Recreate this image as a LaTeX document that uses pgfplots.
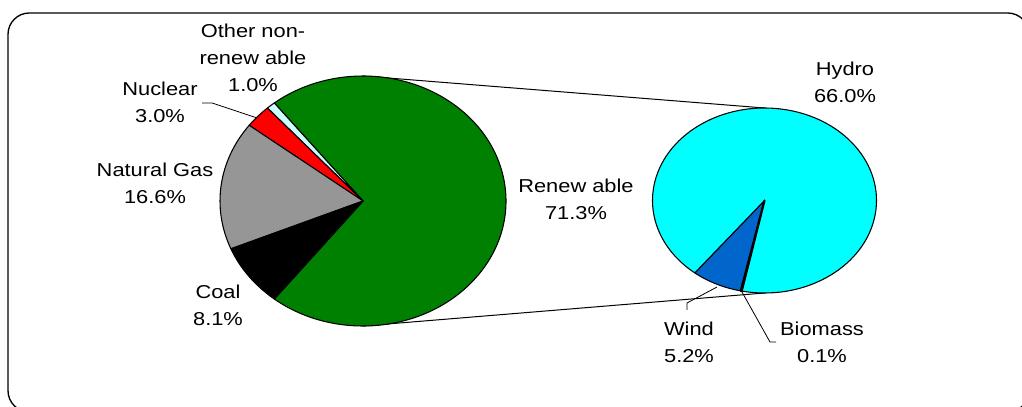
\documentclass[border=0pt]{standalone}
\usepackage{pgfplots}
\pgfplotsset{compat=1.18}
\usepackage{fontspec}
\setmainfont{Liberation Sans}[FakeStretch=1.17]
\definecolor{cGreen}{HTML}{008000}
\definecolor{cGray}{HTML}{969696}
\definecolor{cRed}{HTML}{FF0000}
\definecolor{cOther}{HTML}{CCFFFF}
\definecolor{cHydro}{HTML}{00FFFF}
\definecolor{cWind}{HTML}{0066CC}
\definecolor{cBio}{HTML}{000000}
\newcommand\pxu{0.75pt}
% #1 cx, #2 cy, #3 rx, #4 ry, #5 start angle, #6 value, #7 pie total, #8 colour
\newcommand\slice[9][0.8pt]{%
  \filldraw[fill=#9, draw=black, line width=#1, line join=round]
    (axis cs:#2,#3) -- ++({#6}:{#4*\pxu} and {#5*\pxu})
    arc[start angle={#6}, delta angle={#7/#8*360}, x radius={#4*\pxu}, y radius={#5*\pxu}] -- cycle;}
\begin{document}
\begin{tikzpicture}
\clip (0,0) rectangle (766.5pt,305.25pt);
\begin{axis}[at={(0,0)}, anchor=south west, scale only axis,
  width=766.5pt, height=305.25pt, xmin=0, xmax=1022, ymin=0, ymax=407,
  hide axis, clip=false]
% border
\draw[line width=1pt, rounded corners=16pt] (axis cs:8,394) rectangle (axis cs:1029,-5);
% connectors
\draw[line width=0.75pt] (axis cs:363,331) -- (axis cs:764.5,299);
\draw[line width=0.75pt] (axis cs:363,81) -- (axis cs:764.5,114);
% left pie (values in %)
\slice{363}{206}{143}{125}{-128.34}{71.3}{100}{cGreen}   % Renewable
\slice{363}{206}{143}{125}{128.34}{1.0}{100}{cOther}     % Other non-renewable
\slice{363}{206}{143}{125}{131.94}{3.0}{100}{cRed}       % Nuclear
\slice{363}{206}{143}{125}{142.74}{16.6}{100}{cGray}     % Natural Gas
\slice{363}{206}{143}{125}{202.50}{8.1}{100}{black}      % Coal
% right pie (split of renewable 71.3 %)
\slice{764.5}{206.5}{112}{92.5}{231.5}{5.2}{71.3}{cWind}   % Wind
\slice{764.5}{206.5}{112}{92.5}{258.27}{66.0}{71.3}{cHydro}% Hydro
\slice[1.6pt]{764.5}{206.5}{112}{92.5}{257.76}{0.1}{71.3}{cBio}   % Biomass
% leader lines
\draw[line width=0.6pt] (axis cs:202,304) -- (axis cs:212,304) -- (axis cs:257,289);
\draw[line width=0.6pt] (axis cs:687,97) -- (axis cs:687,104) -- (axis cs:717,120);
\draw[line width=0.6pt] (axis cs:742,115) -- (axis cs:770,65) -- (axis cs:776,65);
% labels
\tikzset{lbl/.style={align=center, inner sep=0pt, font=\fontsize{14}{20.25}\selectfont}}
\node[lbl] at (axis cs:253,349) {Other non-\\renew able\\1.0\%};
\node[lbl] at (axis cs:160,304.5) {Nuclear\\3.0\%};
\node[lbl] at (axis cs:155,223.5) {Natural Gas\\16.6\%};
\node[lbl] at (axis cs:218,102) {Coal\\8.1\%};
\node[lbl] at (axis cs:576,208) {Renew able\\71.3\%};
\node[lbl] at (axis cs:845,325) {Hydro\\66.0\%};
\node[lbl] at (axis cs:689,64.5) {Wind\\5.2\%};
\node[lbl] at (axis cs:822,64.5) {Biomass\\0.1\%};
\end{axis}
\end{tikzpicture}
\end{document}
